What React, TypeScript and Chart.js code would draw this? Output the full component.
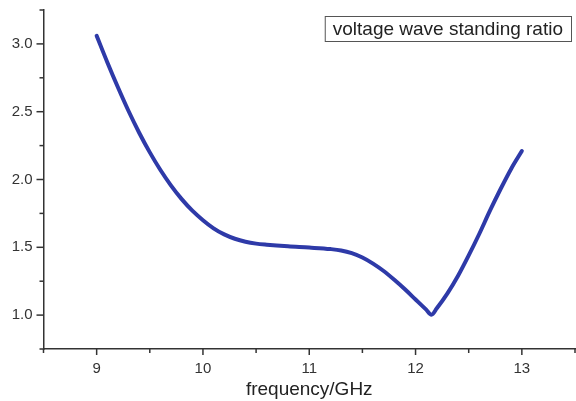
import React, { useEffect, useRef } from 'react';
import { Chart, registerables } from 'chart.js';

Chart.register(...registerables);

const frequencyGHz = [
  9.0, 9.1, 9.2, 9.3, 9.4, 9.5, 9.6, 9.7, 9.8, 9.9, 10.0, 10.1, 10.2, 10.3, 10.4, 10.5, 10.6,
  10.8, 11.0, 11.2, 11.3, 11.4, 11.5, 11.6, 11.7, 11.8, 11.9, 12.0, 12.1, 12.15, 12.2, 12.3,
  12.4, 12.5, 12.6, 12.7, 12.8, 12.9, 13.0,
];
const vswr = [
  3.06, 2.865, 2.68, 2.505, 2.345, 2.2, 2.07, 1.955, 1.855, 1.77, 1.7, 1.64, 1.595, 1.563, 1.541,
  1.527, 1.519, 1.507, 1.498, 1.487, 1.477, 1.457, 1.425, 1.38, 1.325, 1.26, 1.19, 1.115, 1.04,
  1.003, 1.05, 1.16, 1.29, 1.44, 1.6, 1.77, 1.93, 2.08, 2.21,
];
const xRange = [8.5, 13.5];
const yRange = [0.75, 3.25];
const legendLabel = 'voltage wave standing ratio';
const xAxisTitle = 'frequency/GHz';

const FONT = "'Liberation Sans', Arial, sans-serif";
const AXIS_COLOR = '#333333';

const tickPlugin = {
  id: 'manualTicks',
  afterDraw(chart: any) {
    const ctx = chart.ctx;
    const xs = chart.scales.x;
    const ys = chart.scales.y;
    const area = chart.chartArea;
    ctx.save();
    ctx.strokeStyle = AXIS_COLOR;
    ctx.lineWidth = 1.5;
    for (const t of xs.ticks) {
      const v = t.value;
      const px = xs.getPixelForValue(v);
      const major = Math.abs(v - Math.round(v)) < 1e-6;
      const len = major ? 6 : 4;
      ctx.beginPath();
      ctx.moveTo(px, area.bottom);
      ctx.lineTo(px, area.bottom + len);
      ctx.stroke();
    }
    for (const t of ys.ticks) {
      const v = t.value;
      const py = ys.getPixelForValue(v);
      const major = Math.abs(v * 2 - Math.round(v * 2)) < 1e-6;
      const len = major ? 7 : 4;
      ctx.beginPath();
      ctx.moveTo(area.left, py);
      ctx.lineTo(area.left - len, py);
      ctx.stroke();
    }
    // legend box
    ctx.font = `19px ${FONT}`;
    const tw = ctx.measureText(legendLabel).width;
    const padX = 8;
    const boxW = tw + padX * 2;
    const boxH = 25;
    const bx = area.right - 4 - boxW;
    const by = area.top + 6;
    ctx.fillStyle = '#ffffff';
    ctx.fillRect(bx, by, boxW, boxH);
    ctx.strokeStyle = '#555555';
    ctx.lineWidth = 1;
    ctx.strokeRect(bx + 0.5, by + 0.5, boxW, boxH);
    ctx.fillStyle = '#222222';
    ctx.textBaseline = 'middle';
    ctx.textAlign = 'left';
    ctx.fillText(legendLabel, bx + padX, by + boxH / 2 + 1);
    ctx.restore();
  },
};

export default function App() {
  const canvasRef = useRef<HTMLCanvasElement>(null);

  useEffect(() => {
    const canvas = canvasRef.current;
    if (!canvas) return;
    const chart = new Chart(canvas, {
      type: 'line',
      data: {
        datasets: [
          {
            label: legendLabel,
            data: frequencyGHz.map((f, i) => ({ x: f, y: vswr[i] })),
            borderColor: '#2e3aa8',
            borderWidth: 4,
            pointRadius: 0,
            cubicInterpolationMode: 'monotone',
            borderCapStyle: 'round',
            borderJoinStyle: 'round',
            fill: false,
          },
        ],
      },
      options: {
        responsive: false,
        animation: false,
        events: [],
        layout: { padding: { top: 10, right: 1, left: 0, bottom: 0 } },
        plugins: {
          legend: { display: false },
          tooltip: { enabled: false },
        },
        scales: {
          x: {
            type: 'linear',
            min: xRange[0],
            max: xRange[1],
            grid: { display: false },
            border: { display: true, color: AXIS_COLOR, width: 1.5 },
            ticks: {
              stepSize: 0.5,
              autoSkip: false,
              maxRotation: 0,
              padding: 3,
              color: '#333333',
              font: { family: FONT, size: 15 },
              callback: (v: any) => (Math.abs(v - Math.round(v)) < 1e-6 ? String(Math.round(v)) : ''),
            },
            title: {
              display: true,
              text: xAxisTitle,
              color: '#222222',
              font: { family: FONT, size: 19 },
              padding: { top: 0, bottom: 0 },
            },
            afterFit: (scale: any) => {
              scale.height = 52;
              scale.paddingLeft = 0;
              scale.paddingRight = 0;
            },
          },
          y: {
            type: 'linear',
            min: yRange[0],
            max: yRange[1],
            grid: { display: false },
            border: { display: true, color: AXIS_COLOR, width: 1.5 },
            ticks: {
              stepSize: 0.25,
              autoSkip: false,
              padding: 3,
              color: '#333333',
              font: { family: FONT, size: 15 },
              callback: (v: any) => {
                const n = Number(v);
                if (Math.abs(n * 2 - Math.round(n * 2)) < 1e-6 && n >= 1 && n <= 3) return n.toFixed(1);
                return '';
              },
            },
            afterFit: (scale: any) => {
              scale.width = 43.5;
              scale.paddingTop = 0;
              scale.paddingBottom = 0;
            },
          },
        },
      },
      plugins: [tickPlugin],
    } as any);
    return () => chart.destroy();
  }, []);

  return (
    <div style={{ position: 'fixed', left: 0, top: 0, width: 576, height: 401, background: '#fff' }}>
      <canvas ref={canvasRef} width={576} height={401} />
    </div>
  );
}
